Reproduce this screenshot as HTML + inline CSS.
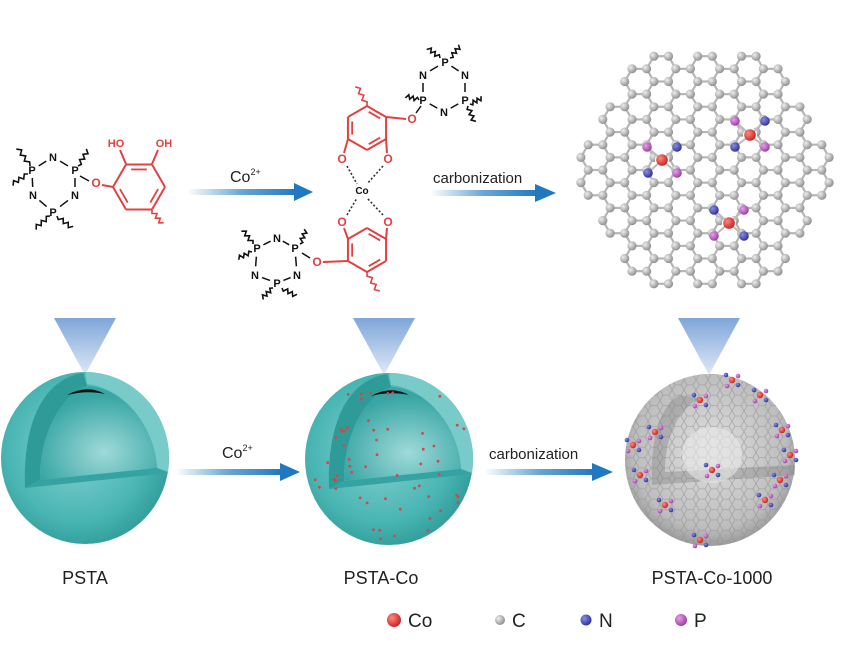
<!DOCTYPE html>
<html><head><meta charset="utf-8"><style>
html,body{margin:0;padding:0;background:#fff;}
svg{display:block;font-family:"Liberation Sans",Arial,sans-serif;}
</style></head><body>
<svg id="s" width="841" height="654" viewBox="0 0 841 654" xmlns="http://www.w3.org/2000/svg">
<defs>
<linearGradient id="arr" x1="0" x2="1" y1="0" y2="0"><stop offset="0" stop-color="#2a7fc0" stop-opacity="0"/><stop offset="0.5" stop-color="#2a7fc0" stop-opacity="0.7"/><stop offset="1" stop-color="#1f78c0"/></linearGradient>
<linearGradient id="cone" x1="0" x2="0" y1="0" y2="1"><stop offset="0" stop-color="#7ea6d9"/><stop offset="1" stop-color="#dfe9f6"/></linearGradient>
<radialGradient id="outer" cx="0.45" cy="0.45" r="0.6"><stop offset="0" stop-color="#86d2d0"/><stop offset="0.7" stop-color="#48b5b3"/><stop offset="1" stop-color="#2f9a98"/></radialGradient>
<radialGradient id="inner" cx="0.55" cy="0.7" r="0.6"><stop offset="0" stop-color="#9fdad9"/><stop offset="1" stop-color="#38a6a4"/></radialGradient>
<radialGradient id="grey" cx="0.5" cy="0.45" r="0.6"><stop offset="0" stop-color="#e0e0e0"/><stop offset="0.75" stop-color="#bdbdbd"/><stop offset="1" stop-color="#8a8a8a"/></radialGradient>
<radialGradient id="atC" cx="0.35" cy="0.35" r="0.7"><stop offset="0" stop-color="#eee"/><stop offset="1" stop-color="#8c8c8c"/></radialGradient>
<radialGradient id="atCo" cx="0.35" cy="0.35" r="0.7"><stop offset="0" stop-color="#ff8a80"/><stop offset="1" stop-color="#c62020"/></radialGradient>
<radialGradient id="atN" cx="0.35" cy="0.35" r="0.7"><stop offset="0" stop-color="#8a8fe0"/><stop offset="1" stop-color="#2a2f9a"/></radialGradient>
<radialGradient id="atP" cx="0.35" cy="0.35" r="0.7"><stop offset="0" stop-color="#e6a0e8"/><stop offset="1" stop-color="#9a3aa6"/></radialGradient>
<pattern id="hexp" width="12" height="10.4" patternUnits="userSpaceOnUse"><path d="M0,5.2 L3,0 L9,0 L12,5.2 L9,10.4 L3,10.4 Z" fill="none" stroke="#8f8f8f" stroke-width="0.8"/></pattern>
<clipPath id="c3"><ellipse cx="710" cy="460" rx="85" ry="86"/></clipPath>
</defs>
<g id="g"></g>
<rect x="187" y="189" width="110" height="6" fill="url(#arr)"/><polygon points="294,183 313,192 294,201" fill="#1f78c0"/>
<text x="230" y="182" font-size="16" fill="#222">Co<tspan font-size="9" dy="-7">2+</tspan></text>
<rect x="430" y="190" width="108" height="6" fill="url(#arr)"/><polygon points="535,184 556,193 535,202" fill="#1f78c0"/>
<text x="433" y="183" font-size="15" fill="#222">carbonization</text>
<rect x="175" y="469" width="107" height="6" fill="url(#arr)"/><polygon points="280,463 300,472 280,481" fill="#1f78c0"/>
<text x="222" y="458" font-size="16" fill="#222">Co<tspan font-size="9" dy="-7">2+</tspan></text>
<rect x="484" y="469" width="110" height="6" fill="url(#arr)"/><polygon points="592,463 613,472 592,481" fill="#1f78c0"/>
<text x="489" y="459" font-size="15" fill="#222">carbonization</text>
<text x="85" y="584" font-size="18" text-anchor="middle" fill="#222">PSTA</text>
<text x="381" y="584" font-size="18" text-anchor="middle" fill="#222">PSTA-Co</text>
<text x="712" y="584" font-size="18" text-anchor="middle" fill="#222">PSTA-Co-1000</text>
<circle cx="394" cy="620" r="7" fill="url(#atCo)"/><text x="408" y="627" font-size="19" fill="#222">Co</text>
<circle cx="500" cy="620" r="5" fill="url(#atC)"/><text x="512" y="627" font-size="19" fill="#222">C</text>
<circle cx="586" cy="620" r="5.5" fill="url(#atN)"/><text x="599" y="627" font-size="19" fill="#222">N</text>
<circle cx="681" cy="620" r="6" fill="url(#atP)"/><text x="694" y="627" font-size="19" fill="#222">P</text>
</svg>
<script>
var NS="http://www.w3.org/2000/svg",G=document.getElementById("g");
function el(t,a,p){var e=document.createElementNS(NS,t);for(var k in a)e.setAttribute(k,a[k]);(p||G).appendChild(e);return e;}
function line(x1,y1,x2,y2,c,w,d){var a={x1:x1,y1:y1,x2:x2,y2:y2,stroke:c,"stroke-width":w||1.6};if(d)a["stroke-dasharray"]=d;el("line",a);}
function txt(x,y,s,c,fs){var t=el("text",{x:x,y:y+4,"font-size":fs||11,"font-weight":"bold","text-anchor":"middle",fill:c});t.textContent=s;}
function wavy(x1,y1,x2,y2,c){var dx=x2-x1,dy=y2-y1,L=Math.hypot(dx,dy),nx=-dy/L,ny=dx/L,n=6,d="M"+x1+","+y1;for(var i=1;i<=n;i++){var t=i/n,s=(i%2?2:-2);d+=" L"+(x1+dx*t+nx*s).toFixed(1)+","+(y1+dy*t+ny*s).toFixed(1);}el("path",{d:d,fill:"none",stroke:c,"stroke-width":1.6});}
[85,384,709].forEach(function(cx){el("polygon",{points:(cx-31)+",318 "+(cx+31)+",318 "+cx+",375",fill:"url(#cone)"});});
function sphere(cx,cy,dots){
 var g=el("g",{transform:"translate("+cx+","+cy+")"});
 el("ellipse",{cx:0,cy:0,rx:84,ry:86,fill:"url(#outer)"},g);
 el("path",{d:"M-2,-85 C-45,-78 -62,-30 -60,30 L-45,22 C-45,-30 -20,-65 2,-72 Z",fill:"#2f9b99"},g);
 el("path",{d:"M0,-86 A84,86 0 0 1 83,14 L72,10 C70,-30 40,-70 2,-74 Z",fill:"#78cbc8"},g);
 el("path",{d:"M-45,22 C-45,-30 -20,-65 2,-72 C40,-70 70,-30 72,10 Z",fill:"url(#inner)"},g);
 el("path",{d:"M-18,-63 Q2,-74 20,-64 Q2,-68 -18,-63Z",fill:"#111"},g);
 el("path",{d:"M-60,30 L-45,22 L72,10 L83,15 Z",fill:"#34a3a1"},g);
 if(dots){var seed=7;function r(){seed=(seed*9301+49297)%233280;return seed/233280;}
  for(var i=0;i<55;i++){var a=r()*6.283,rr=Math.sqrt(r())*82;el("circle",{cx:(Math.cos(a)*rr).toFixed(1),cy:(Math.sin(a)*rr).toFixed(1),r:1.4,fill:"#d6454a"},g);}}
}
sphere(85,458,false);sphere(389,459,true);
el("ellipse",{cx:710,cy:460,rx:85,ry:86,fill:"url(#grey)"});
el("rect",{x:620,y:370,width:180,height:180,fill:"url(#hexp)","clip-path":"url(#c3)",opacity:0.6});
el("path",{d:"M680,395 C660,405 650,440 652,485 L795,475 L795,465 L665,472 C665,440 675,412 700,398 Z",fill:"#777",opacity:0.35});
el("ellipse",{cx:712,cy:455,rx:30,ry:28,fill:"#e8e8e8",opacity:0.6});
(function(){var pts=[[700,400],[732,380],[760,395],[655,432],[782,430],[633,445],[665,505],[765,500],[712,470],[700,540],[780,480],[640,475],[790,455]],cols=["url(#atCo)","url(#atN)","url(#atP)"];
 pts.forEach(function(p,i){el("circle",{cx:p[0],cy:p[1],r:3.2,fill:cols[0]});el("circle",{cx:p[0]-6,cy:p[1]-5,r:2.3,fill:cols[1]});el("circle",{cx:p[0]+6,cy:p[1]-4,r:2.3,fill:cols[2]});el("circle",{cx:p[0]-5,cy:p[1]+6,r:2.3,fill:cols[2]});el("circle",{cx:p[0]+6,cy:p[1]+5,r:2.3,fill:cols[1]});});})();
(function(){var a=14.6,cx=705,cy=170,R=112,atoms={},bonds={},s3=Math.sqrt(3);
 for(var i=-10;i<=10;i++)for(var j=-10;j<=10;j++){var hx=cx+1.5*a*i,hy=cy+s3*a*(j+i/2);
  if(Math.hypot(hx-cx,(hy-cy)*1.0)>R)continue;var v=[];
  for(var k=0;k<6;k++){var an=k*Math.PI/3;v.push([hx+a*Math.cos(an),hy+a*Math.sin(an)]);}
  for(k=0;k<6;k++){var p=v[k],q=v[(k+1)%6];var kp=Math.round(p[0]*2)+"_"+Math.round(p[1]*2),kq=Math.round(q[0]*2)+"_"+Math.round(q[1]*2);atoms[kp]=p;var bk=kp<kq?kp+"|"+kq:kq+"|"+kp;bonds[bk]=[p,q];}}
 for(var b in bonds){var e=bonds[b];line(e[0][0],e[0][1],e[1][0],e[1][1],"#b5b5b5",2.2);}
 for(var k2 in atoms){var p=atoms[k2];el("circle",{cx:p[0].toFixed(1),cy:p[1].toFixed(1),r:4.6,fill:"url(#atC)"});}
 [[662,160,[[647,147,"P"],[677,147,"N"],[648,173,"N"],[677,173,"P"]]],[750,135,[[735,121,"P"],[765,121,"N"],[735,147,"N"],[765,147,"P"]]],[729,223,[[714,210,"N"],[744,210,"P"],[714,236,"P"],[744,236,"N"]]]].forEach(function(c){
  el("circle",{cx:c[0],cy:c[1],r:7,fill:"#fff"});
  c[2].forEach(function(d){line(c[0],c[1],d[0],d[1],"#bbb",2);el("circle",{cx:d[0],cy:d[1],r:4.8,fill:d[2]=="P"?"url(#atP)":"url(#atN)"});});
  el("circle",{cx:c[0],cy:c[1],r:5.8,fill:"url(#atCo)"});});})();
var R="#e2413f",K="#111";
function phos(P1,N1,P2,N2,P3,N3){
 var pts=[P1,N1,P2,N2,P3,N3],lab=["P","N","P","N","P","N"];
 for(var i=0;i<6;i++){var a=pts[i],b=pts[(i+1)%6],f=0.32;line(a[0]+(b[0]-a[0])*f,a[1]+(b[1]-a[1])*f,a[0]+(b[0]-a[0])*(1-f),a[1]+(b[1]-a[1])*(1-f),K,1.5);}
 for(i=0;i<6;i++)txt(pts[i][0],pts[i][1],lab[i],K,11);}
function ring(c,r,rot,col,dbl){var v=[];for(var k=0;k<6;k++){var an=(rot+60*k)*Math.PI/180;v.push([c[0]+r*Math.cos(an),c[1]+r*Math.sin(an)]);}
 for(k=0;k<6;k++){var p=v[k],q=v[(k+1)%6];line(p[0],p[1],q[0],q[1],col,2);
  if(dbl.indexOf(k)>=0){var mx=(p[0]+q[0])/2,my=(p[1]+q[1])/2,ix=(c[0]-mx)*0.22,iy=(c[1]-my)*0.22,t=0.2;line(p[0]+(q[0]-p[0])*t+ix,p[1]+(q[1]-p[1])*t+iy,p[0]+(q[0]-p[0])*(1-t)+ix,p[1]+(q[1]-p[1])*(1-t)+iy,col,1.8);}}
 return v;}
phos([32,170],[53,157],[75,170],[75,195],[53,212],[33,195]);
wavy(30,166,18,148,K);wavy(28,174,12,184,K);wavy(78,166,88,150,K);wavy(50,216,35,228,K);wavy(57,216,72,228,K);
line(80,176,89,181,K,1.5);
var v=ring([139,187],26,0,R,[2,4,0]);
txt(96,183,"O",R,12);line(102,185,113,187,R,2);
line(126,164,120,150,R,2);line(152,164,158,150,R,2);
txt(116,143,"HO",R,11);txt(164,143,"OH",R,11);
wavy(152,210,162,224,R);
var u=ring([367,128],22,-90,R,[0,2,4]);
var lo=ring([367,250],22,-90,R,[0,2,4]);
wavy(367,106,357,86,R);wavy(367,272,378,292,R);
txt(342,159,"O",R,12);txt(388,159,"O",R,12);txt(342,222,"O",R,12);txt(388,222,"O",R,12);
line(348,139,344,153,R,2);line(386,139,387,153,R,2);line(348,239,344,228,R,2);line(386,239,387,228,R,2);
txt(412,119,"O",R,12);line(386,117,406,119,R,2);line(416,113,421,106,K,1.5);
txt(317,262,"O",R,12);line(348,261,323,262,R,2);line(310,258,302,253,K,1.5);
line(347,166,357,184,"#333",1.6,"2,2");line(383,166,367,184,"#333",1.6,"2,2");
line(347,215,357,198,"#333",1.6,"2,2");line(383,215,367,198,"#333",1.6,"2,2");
txt(362,190,"Co",K,10);
phos([445,62],[465,75],[465,100],[444,112],[423,100],[423,75]);
wavy(440,58,428,48,K);wavy(450,58,460,46,K);wavy(470,104,482,98,K);wavy(468,106,474,122,K);wavy(419,100,406,96,K);
phos([257,248],[277,238],[295,248],[297,275],[277,283],[255,275]);
wavy(253,244,243,230,K);wavy(252,252,238,258,K);wavy(300,244,306,230,K);wavy(273,288,262,298,K);wavy(282,288,296,296,K);
</script>
</body></html>
